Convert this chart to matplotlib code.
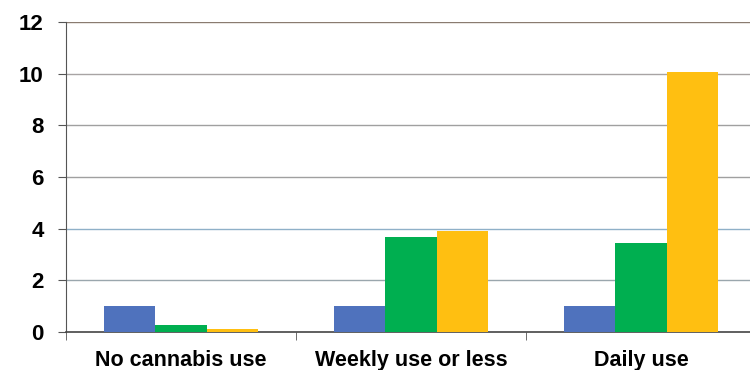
import matplotlib
matplotlib.use("Agg")
import matplotlib.pyplot as plt
import numpy as np

categories = ["No cannabis use", "Weekly use or less", "Daily use"]
series_a = [1.0, 1.0, 1.0]
series_b = [0.27, 3.68, 3.45]
series_c = [0.1, 3.92, 10.05]
colors = ["#4F72BD", "#00AF50", "#FFBF11"]
yticks = [0, 2, 4, 6, 8, 10, 12]

plt.rcParams["font.family"] = ["Liberation Sans", "DejaVu Sans"]

fig = plt.figure(figsize=(7.5, 3.7), dpi=100)
ax = fig.add_axes([66 / 750, 1 - 332 / 370, 690 / 750, 310 / 370])

x = np.arange(len(categories))
w = 0.224
for i, (vals, c) in enumerate(zip([series_a, series_b, series_c], colors)):
    ax.bar(x + (i - 1) * w, vals, width=w, color=c, zorder=3, linewidth=0)

ax.set_xlim(-0.5, len(categories) - 0.5)
ax.set_ylim(0, 12)
ax.set_yticks(yticks)
ax.set_yticklabels([str(t) for t in yticks], fontsize=16, fontweight="bold")
ax.set_xticks(x)
ax.set_xticklabels(categories, fontsize=15.5, fontweight="bold")
ax.set_xticks(np.arange(len(categories) + 1) - 0.5, minor=True)
ax.tick_params(axis="x", which="major", length=0, pad=13)
ax.tick_params(axis="x", which="minor", length=6, color="#555555", direction="out")
ax.tick_params(axis="y", length=6, color="#555555", direction="out", pad=10)

grid_colors = {2: "#9aa6ad", 4: "#8fb0c8", 6: "#a0a0a0", 8: "#a0a0a0", 10: "#a8a4a4", 12: "#8a7b70"}
for yv, gc in grid_colors.items():
    ax.axhline(yv, color=gc, linewidth=1.0, zorder=1)

for s in ["top", "right"]:
    ax.spines[s].set_visible(False)
ax.spines["left"].set_color("#555555")
ax.spines["bottom"].set_color("#444444")
ax.spines["bottom"].set_linewidth(1.2)

fig.savefig("out.png", dpi=100)
